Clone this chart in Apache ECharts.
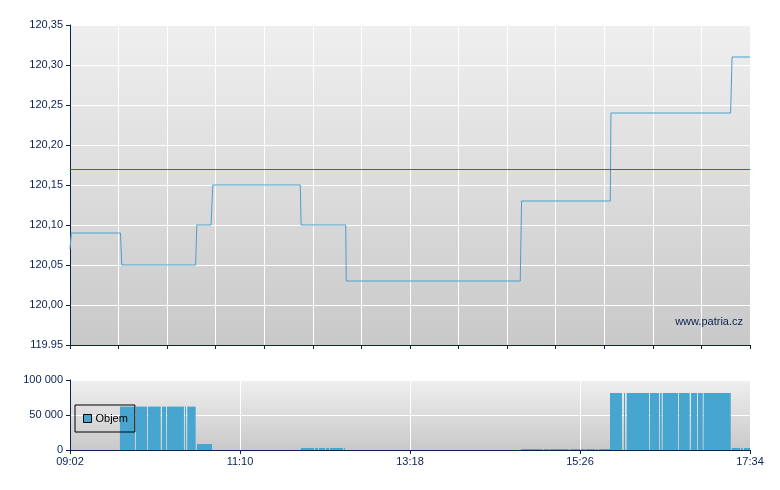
<!DOCTYPE html>
<html>
<head>
<meta charset="utf-8">
<script src="https://cdn.jsdelivr.net/npm/echarts@6/dist/echarts.min.js"></script>
<style>html,body{margin:0;padding:0;background:#fff}#c{width:780px;height:490px}</style>
</head>
<body>
<div id="c"></div>
<script>
// Times are minutes since session open (09:02); session ends 17:34 (512 min)
var priceTimes  = [0, 1, 38, 39, 94.6, 95.5, 106.2, 107.5, 173.4, 174, 207.6, 208, 339, 340, 406.8, 407.3, 497.4, 498.5, 512];
var priceValues = [120.07, 120.09, 120.09, 120.05, 120.05, 120.10, 120.10, 120.15, 120.15, 120.10, 120.10, 120.03, 120.03, 120.13, 120.13, 120.24, 120.24, 120.31, 120.31];
var referencePrice = 120.17;

var volStart = [37.6, 49.7, 58.7, 69.3, 73.0, 86.6, 88.3, 95.6,
  173.9, 184.5, 187.5, 192.8, 195.8, 206.3,
  339.6, 356.9, 361.4, 376.5, 384.8, 388.5, 396.0, 398.3,
  406.6, 417.1, 419.2, 436.7, 444.2, 446.3, 458.5, 467.6, 472.8, 477.1,
  498.4, 505.2, 507.5];
var volEnd = [48.9, 58.0, 68.3, 72.3, 85.8, 87.3, 94.6, 106.9,
  183.7, 186.7, 192.0, 195.0, 205.5, 207.0,
  356.1, 360.7, 375.7, 384.0, 387.8, 395.3, 397.5, 406.6,
  415.6, 417.9, 436.0, 443.5, 445.5, 457.8, 466.6, 472.1, 476.4, 497.5,
  504.5, 506.5, 512];
var volValues = [62000, 62000, 62000, 62000, 62000, 62000, 62000, 8600,
  2900, 2900, 2900, 2900, 2900, 2900,
  1400, 1400, 1400, 1400, 1400, 1400, 1400, 1400,
  81400, 81400, 81400, 81400, 81400, 81400, 81400, 81400, 81400, 81400,
  2900, 2900, 2900];

var priceTickLabels = ['119.95', '120,00', '120,05', '120,10', '120,15', '120,20', '120,25', '120,30', '120,35'];
var volTickLabels = ['0', '50 000', '100 000'];
var timeTickLabels = ['09:02', '11:10', '13:18', '15:26', '17:34'];
var seriesName = 'Objem';
var watermark = 'www.patria.cz';

var navy = '#0b2152';
var font = 'Liberation Sans, Arial, sans-serif';
var bgGrad = function () {
  return new echarts.graphic.LinearGradient(0, 0, 0, 1, [
    {offset: 0, color: '#efefef'}, {offset: 1, color: '#c9c9c9'}]);
};

var priceData = priceTimes.map(function (t, i) { return [t, priceValues[i]]; });
var volData = volStart.map(function (s, i) { return [s, volEnd[i], volValues[i]]; });

var chart = echarts.init(document.getElementById('c'), null, {renderer: 'canvas'});
chart.setOption({
  animation: false,
  backgroundColor: '#ffffff',
  grid: [
    {left: 70, right: 30, top: 25, height: 320, show: true, backgroundColor: bgGrad(), borderWidth: 0},
    {left: 70, right: 30, top: 380, height: 70, show: true, backgroundColor: bgGrad(), borderWidth: 0}
  ],
  legend: {
    left: 75, top: 405,
    data: [{name: seriesName, icon: 'rect'}],
    itemWidth: 8, itemHeight: 8, itemGap: 4,
    padding: [8, 7, 8, 8],
    borderColor: '#000', borderWidth: 1,
    backgroundColor: 'transparent',
    itemStyle: {borderColor: '#000', borderWidth: 1},
    textStyle: {color: '#000', fontSize: 11, fontFamily: font, padding: [0, 0, 0, -1]},
    selectedMode: false
  },
  xAxis: [
    {gridIndex: 0, type: 'value', min: 0, max: 512, show: false},
    {gridIndex: 0, type: 'value', min: 0, max: 14, interval: 1, position: 'bottom',
      axisLine: {show: true, lineStyle: {color: navy, width: 1}},
      axisTick: {show: true, length: 4, lineStyle: {color: navy}},
      axisLabel: {show: false},
      splitLine: {show: true, lineStyle: {color: '#ffffff', width: 1}}},
    {gridIndex: 1, type: 'value', min: 0, max: 512, interval: 128, position: 'bottom',
      axisLine: {show: true, lineStyle: {color: navy, width: 1}},
      axisTick: {show: true, length: 4, lineStyle: {color: navy}},
      axisLabel: {show: true, color: navy, fontSize: 11, fontFamily: font, margin: 6,
        formatter: function (v, i) { return timeTickLabels[Math.round(v / 128)]; }},
      splitLine: {show: true, lineStyle: {color: '#ffffff', width: 1}}}
  ],
  yAxis: [
    {gridIndex: 0, type: 'value', min: 119.95, max: 120.35, interval: 0.05,
      axisLine: {show: true, lineStyle: {color: navy, width: 1}},
      axisTick: {show: true, length: 4, lineStyle: {color: navy}},
      axisLabel: {show: true, color: navy, fontSize: 11, fontFamily: font, margin: 7,
        formatter: function (v) { return priceTickLabels[Math.round((v - 119.95) / 0.05)]; }},
      splitLine: {show: true, lineStyle: {color: '#ffffff', width: 1}}},
    {gridIndex: 1, type: 'value', min: 0, max: 100000, interval: 50000,
      axisLine: {show: true, lineStyle: {color: navy, width: 1}},
      axisTick: {show: true, length: 4, lineStyle: {color: navy}},
      axisLabel: {show: true, color: navy, fontSize: 11, fontFamily: font, margin: 7,
        formatter: function (v) { return volTickLabels[Math.round(v / 50000)]; }},
      splitLine: {show: true, lineStyle: {color: '#ffffff', width: 1}}}
  ],
  graphic: [{
    type: 'text', right: 37, top: 316, z: 100,
    style: {text: watermark, fill: navy, font: '11px ' + font}
  }],
  series: [
    {type: 'line', name: 'Cena', xAxisIndex: 0, yAxisIndex: 0, data: priceData,
      symbol: 'none', lineStyle: {color: '#4aa0cc', width: 1}, itemStyle: {color: '#4aa0cc'},
      markLine: {silent: true, symbol: 'none', label: {show: false},
        lineStyle: {color: '#c8302c', width: 1, type: 'solid'},
        data: [{yAxis: referencePrice}]}},
    {type: 'custom', name: seriesName, xAxisIndex: 2, yAxisIndex: 1, data: volData,
      encode: {x: [0, 1], y: 2},
      itemStyle: {color: '#46a6cf'},
      renderItem: function (params, api) {
        var a = api.coord([api.value(0), api.value(2)]);
        var b = api.coord([api.value(1), 0]);
        return {type: 'rect', shape: {x: a[0], y: a[1], width: b[0] - a[0], height: b[1] - a[1]},
          style: api.style()};
      }}
  ]
});
</script>
</body>
</html>
